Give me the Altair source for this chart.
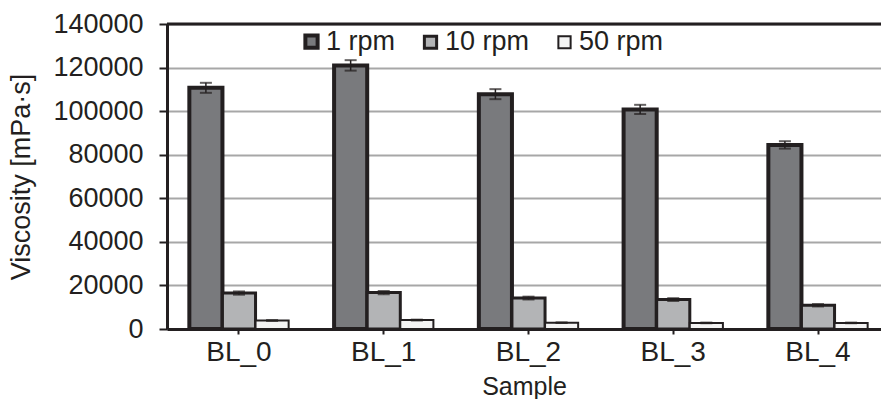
import altair as alt
import pandas as pd

samples = ["BL_0", "BL_1", "BL_2", "BL_3", "BL_4"]
series = ["1 rpm", "10 rpm", "50 rpm"]
rpm1 = [110700, 121000, 107800, 100800, 84500]
rpm1_err = [2300, 2400, 2300, 2100, 1700]
rpm10 = [16500, 16700, 14200, 13500, 10900]
rpm10_err = [750, 750, 650, 650, 550]
rpm50 = [3900, 4100, 2900, 2800, 2800]
rpm50_err = [200, 200, 150, 150, 150]
y_ticks = [0, 20000, 40000, 60000, 80000, 100000, 120000, 140000]

rows = []
for vals, errs, s in [(rpm1, rpm1_err, series[0]), (rpm10, rpm10_err, series[1]), (rpm50, rpm50_err, series[2])]:
    for smp, v, e in zip(samples, vals, errs):
        rows.append({"sample": smp, "series": s, "value": v, "lo": v - e, "hi": v + e})
df = pd.DataFrame(rows)

INK = "#231f20"
FONT = "Liberation Sans"

x_enc = alt.X("sample:N", sort=samples,
              scale=alt.Scale(paddingInner=0.314, paddingOuter=0.1233, align=0.626),
              axis=alt.Axis(title="Sample", labelAngle=0, labelFontSize=28, titleFontSize=25,
                            labelPadding=4, tickSize=5, tickWidth=2, tickColor=INK,
                            domainWidth=3, domainColor=INK, titlePadding=8, grid=False,
                            labelColor=INK, titleColor=INK, titleFontWeight="normal"))
xo_enc = alt.XOffset("series:N", sort=series)

y_scale = alt.Scale(domain=[0, 140000], nice=False)
y_axis = alt.Axis(title="Viscosity [mPa·s]", values=y_ticks, format="d", labelFontSize=27,
                  titleFontSize=27, labelPadding=16, tickSize=8, tickWidth=2, tickColor=INK,
                  domainWidth=3, domainColor=INK, grid=True, gridColor="#a7a7a7", gridWidth=2,
                  labelColor=INK, titleColor=INK, titleFontWeight="normal", titlePadding=17)

legend_kw = dict(title=None, orient="none", direction="horizontal",
                 legendX=131, legendY=4, symbolType="square", symbolSize=150,
                 symbolStrokeColor=INK, labelFontSize=27, labelColor=INK,
                 labelOffset=1, columnPadding=21, labelFont=FONT)

base = alt.Chart(df)

bars = base.mark_bar().encode(
    x=x_enc,
    xOffset=xo_enc,
    y=alt.Y("value:Q", scale=y_scale, axis=y_axis),
    fill=alt.Fill("series:N", sort=series,
                  scale=alt.Scale(domain=series, range=["#797a7d", "#b3b4b6", "#f4f4f4"]),
                  legend=alt.Legend(**legend_kw)),
    stroke=alt.Stroke("series:N", sort=series,
                      scale=alt.Scale(domain=series, range=[INK, INK, INK]),
                      legend=alt.Legend(**legend_kw)),
    strokeWidth=alt.StrokeWidth("series:N", sort=series,
                                scale=alt.Scale(domain=series, range=[4, 2, 2]),
                                legend=alt.Legend(**legend_kw)),
)

err = base.mark_rule(color=INK, strokeWidth=1.5).encode(
    x=alt.X("sample:N", sort=samples),
    xOffset=xo_enc,
    y=alt.Y("lo:Q", scale=y_scale),
    y2="hi:Q",
)
caps_hi = base.mark_tick(color=INK, thickness=2, size=12).encode(
    x=alt.X("sample:N", sort=samples), xOffset=xo_enc, y=alt.Y("hi:Q", scale=y_scale))
caps_lo = base.mark_tick(color=INK, thickness=2, size=12).encode(
    x=alt.X("sample:N", sort=samples), xOffset=xo_enc, y=alt.Y("lo:Q", scale=y_scale))

top_line = alt.Chart(pd.DataFrame({"v": [y_ticks[-1]]})).mark_rule(color=INK, strokeWidth=3).encode(
    y=alt.Y("v:Q", scale=y_scale))

chart = alt.layer(bars, err, caps_hi, caps_lo, top_line).properties(
    width=714, height=305,
    autosize=alt.AutoSizeParams(type="none"),
    padding={"left": 167, "top": 24, "right": 0, "bottom": 70},
).configure_view(stroke=None).configure(font=FONT).configure_axis(
    labelFont=FONT, titleFont=FONT)

chart.save("out.html", embed_options={"renderer": "svg", "actions": False})
